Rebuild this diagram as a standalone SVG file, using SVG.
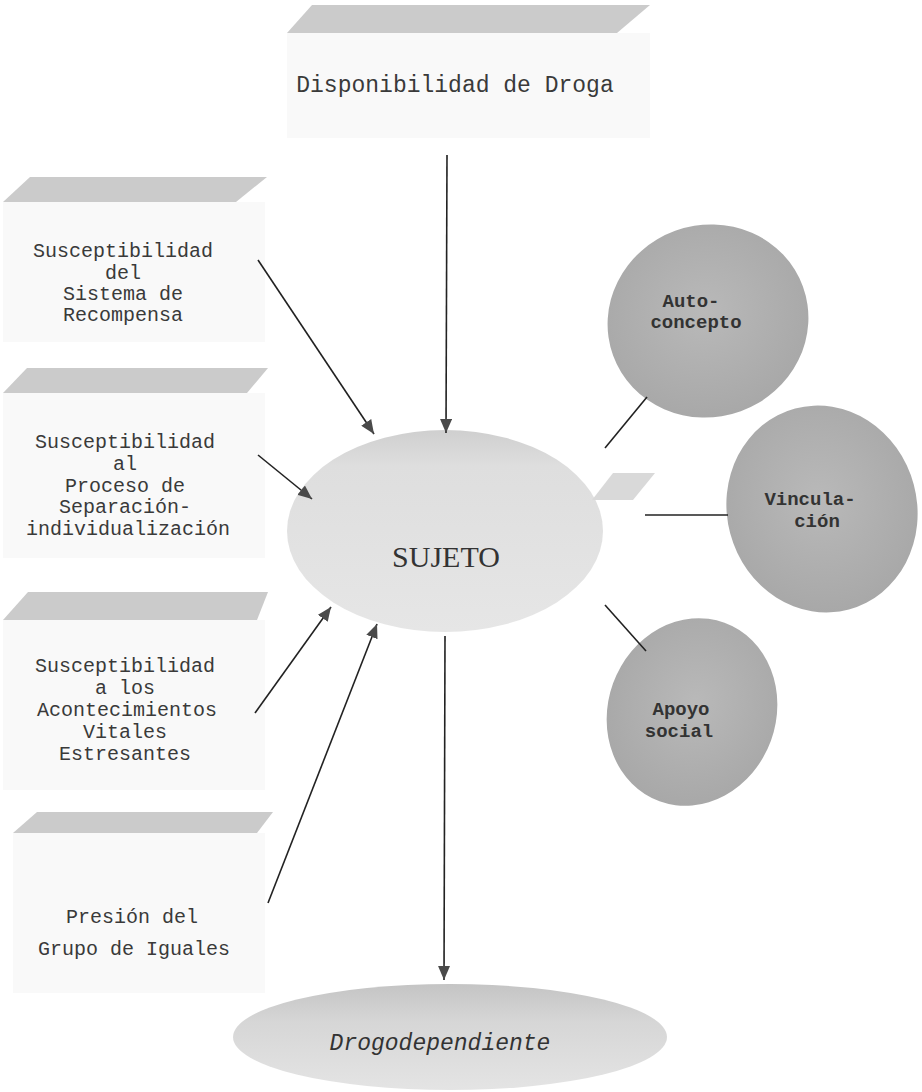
<svg xmlns="http://www.w3.org/2000/svg" width="922" height="1092" viewBox="0 0 922 1092">
<defs>
<style>
.band{fill:#cbcbcb}
.body{fill:#f9f9f9}
.lbl{font-family:"Liberation Mono","DejaVu Sans Mono",monospace;font-size:20px;fill:#3a3a3a;text-anchor:middle}
.title{font-family:"Liberation Mono","DejaVu Sans Mono",monospace;font-size:23px;fill:#3a3a3a;text-anchor:middle}
.clbl{font-family:"Liberation Mono","DejaVu Sans Mono",monospace;font-size:19px;font-weight:bold;fill:#333;text-anchor:middle}
.conn{stroke:#222;stroke-width:1.6;fill:none}
.arr{stroke:#222;stroke-width:1.6;fill:none;marker-end:url(#ah)}
.circ{fill:url(#cg)}
</style>
<marker id="ah" markerUnits="userSpaceOnUse" markerWidth="14" markerHeight="12" refX="14" refY="6" orient="auto">
<path d="M0,0 L14,6 L0,12 z" fill="#4a4a4a"/>
</marker>
<radialGradient id="cg" cx="50%" cy="45%" r="55%">
<stop offset="0" stop-color="#b9b9b9"/>
<stop offset="1" stop-color="#a8a8a8"/>
</radialGradient>
<linearGradient id="sg" x1="0" y1="0" x2="0" y2="1">
<stop offset="0" stop-color="#cfcfcf"/>
<stop offset="0.18" stop-color="#dedede"/>
<stop offset="1" stop-color="#e6e6e6"/>
</linearGradient>
<linearGradient id="dg" x1="0" y1="0" x2="0" y2="1">
<stop offset="0" stop-color="#c4c4c4"/>
<stop offset="0.35" stop-color="#d6d6d6"/>
<stop offset="1" stop-color="#e4e4e4"/>
</linearGradient>
</defs>

<g id="node-disponibilidad">
<rect class="body" x="287" y="33" width="363" height="105"/>
<polygon class="band" points="312,5 650,5 617,33 287,33"/>
<text class="title" x="455" y="92">Disponibilidad de Droga</text>
</g>

<g id="node-recompensa">
<rect class="body" x="3" y="202" width="262" height="140"/>
<polygon class="band" points="30,177 267,177 236,202 3,202"/>
<text class="lbl" x="123" y="257">Susceptibilidad</text>
<text class="lbl" x="123" y="279">del</text>
<text class="lbl" x="123" y="300">Sistema de</text>
<text class="lbl" x="123" y="321">Recompensa</text>
</g>

<g id="node-separacion">
<rect class="body" x="3" y="393" width="262" height="165"/>
<polygon class="band" points="27,368 268,368 247,393 3,393"/>
<text class="lbl" x="125" y="448">Susceptibilidad</text>
<text class="lbl" x="125" y="470">al</text>
<text class="lbl" x="125" y="492">Proceso de</text>
<text class="lbl" x="125" y="513">Separación-</text>
<text class="lbl" x="128" y="535">individualización</text>
</g>

<g id="node-acontecimientos">
<rect class="body" x="3" y="620" width="262" height="170"/>
<polygon class="band" points="28,592 268,592 257,620 3,620"/>
<text class="lbl" x="125" y="672">Susceptibilidad</text>
<text class="lbl" x="125" y="694">a los</text>
<text class="lbl" x="127" y="716">Acontecimientos</text>
<text class="lbl" x="125" y="738">Vitales</text>
<text class="lbl" x="125" y="760">Estresantes</text>
</g>

<g id="node-presion">
<rect class="body" x="13" y="833" width="252" height="160"/>
<polygon class="band" points="37,812 273,812 257,833 13,833"/>
<text class="lbl" x="132" y="923">Presión del</text>
<text class="lbl" x="134" y="955">Grupo de Iguales</text>
</g>

<g id="node-sujeto">
<ellipse cx="445" cy="531" rx="158" ry="101" fill="url(#sg)"/>
<polygon points="613,473 655,473 633,500 592,500" fill="#d9d9d9"/>
<text x="446" y="567" font-family="'Liberation Serif','Times New Roman',serif" font-size="30" fill="#333" text-anchor="middle">SUJETO</text>
</g>

<g id="node-autoconcepto">
<ellipse class="circ" cx="708" cy="321" rx="101" ry="96" transform="rotate(-20 708 321)"/>
<text class="clbl" x="691" y="307">Auto-</text>
<text class="clbl" x="696" y="328">concepto</text>
</g>

<g id="node-vinculacion">
<ellipse class="circ" cx="822" cy="509" rx="95" ry="104" transform="rotate(-15 822 509)"/>
<text class="clbl" x="810" y="505">Vincula-</text>
<text class="clbl" x="817" y="527">ción</text>
</g>

<g id="node-apoyo">
<ellipse class="circ" cx="692" cy="712" rx="84" ry="95" transform="rotate(20 692 712)"/>
<text class="clbl" x="681" y="715">Apoyo</text>
<text class="clbl" x="679" y="737">social</text>
</g>

<g id="node-drogodependiente">
<ellipse cx="450" cy="1037" rx="217" ry="53" fill="url(#dg)"/>
<text x="440" y="1050" font-family="'Liberation Mono','DejaVu Sans Mono',monospace" font-size="23" font-style="italic" fill="#333" text-anchor="middle">Drogodependiente</text>
</g>

<g id="connectors">
<line class="arr" x1="447" y1="155" x2="446" y2="433"/>
<line class="arr" x1="258" y1="260" x2="374" y2="434"/>
<line class="arr" x1="258" y1="455" x2="312" y2="499"/>
<line class="arr" x1="255" y1="713" x2="331" y2="607"/>
<line class="arr" x1="268" y1="903" x2="377" y2="624"/>
<line class="arr" x1="445" y1="636" x2="444" y2="980"/>
<line class="conn" x1="605" y1="448" x2="647" y2="397"/>
<line class="conn" x1="645" y1="515" x2="728" y2="515"/>
<line class="conn" x1="605" y1="605" x2="646" y2="651"/>
</g>
</svg>
